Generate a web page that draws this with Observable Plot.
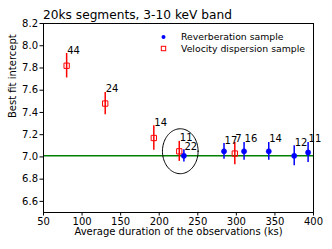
<!DOCTYPE html>
<html>
<head>
<meta charset="utf-8">
<script src="https://cdn.jsdelivr.net/npm/d3@7"></script>
<script src="https://cdn.jsdelivr.net/npm/@observablehq/plot@0.6"></script>
<style>
  html, body { margin: 0; padding: 0; background: #fff; }
  #chart svg { display: block; font-family: "DejaVu Sans", sans-serif; }
</style>
</head>
<body>
<div id="chart"></div>
<script>
// Reverberation sample (blue)
const revX = [232, 284, 310, 342, 375, 393];
const revY = [7.01, 7.05, 7.05, 7.05, 7.01, 7.04];
const revErr = [0.055, 0.07, 0.08, 0.08, 0.09, 0.09];
const revN = ["22", "17", "16", "14", "12", "11"];
// Velocity dispersion sample (red)
const velX = [80, 130, 193, 226, 298];
const velY = [7.82, 7.48, 7.17, 7.05, 7.03];
const velErr = [0.11, 0.10, 0.11, 0.09, 0.10];
const velN = ["44", "24", "14", "11", "7"];
// reference line
const refY = 7.01;
// highlighted ellipse (data units)
const ellCx = 227.3, ellCy = 7.051, ellRx = 23.1, ellRy = 0.202;

const xTicks = [50, 100, 150, 200, 250, 300, 350, 400];
const yTicks = [6.6, 6.8, 7.0, 7.2, 7.4, 7.6, 7.8, 8.0, 8.2];

const titleText = "20ks segments, 3-10 keV band";
const xLabel = "Average duration of the observations (ks)";
const yLabel = "Best fit intercept";
const legendLabels = ["Reverberation sample", "Velocity dispersion sample"];

const RED = "#ff0000", BLUE = "#0000ff", GREEN = "#008000";

const rev = revX.map((x, i) => ({x, y: revY[i], e: revErr[i], n: revN[i]}));
const vel = velX.map((x, i) => ({x, y: velY[i], e: velErr[i], n: velN[i]}));
const ell = d3.range(0, 97).map(i => {
  const t = i / 96 * 2 * Math.PI;
  return {x: ellCx + ellRx * Math.cos(t), y: ellCy + ellRy * Math.sin(t)};
});

const mL = 43, mT = 23, mR = 19, mB = 37;

const plot = Plot.plot({
  width: 332,
  height: 249,
  marginLeft: mL, marginRight: mR, marginTop: mT, marginBottom: mB,
  style: {fontFamily: "DejaVu Sans, sans-serif", fontSize: "10px", color: "#000", background: "#fff"},
  x: {domain: [50, 400], ticks: xTicks, tickSize: 3.5, tickPadding: 2, label: null, tickFormat: d3.format("d")},
  y: {domain: [6.5, 8.2], ticks: yTicks, tickSize: 3.5, tickPadding: 2, label: null, tickFormat: d3.format(".1f")},
  marks: [
    Plot.ruleY([refY], {stroke: GREEN, strokeWidth: 1.5}),
    Plot.ruleX(vel, {x: "x", y1: d => d.y - d.e, y2: d => d.y + d.e, stroke: RED, strokeWidth: 1.5}),
    Plot.ruleX(rev, {x: "x", y1: d => d.y - d.e, y2: d => d.y + d.e, stroke: BLUE, strokeWidth: 1.5}),
    Plot.dot(vel, {x: "x", y: "y", symbol: "square", r: 3, stroke: RED, fill: "none", strokeWidth: 1}),
    Plot.dot(rev, {x: "x", y: "y", r: 2.6, fill: BLUE, stroke: BLUE, strokeWidth: 0.5}),
    Plot.text(vel, {x: "x", y: d => d.y + d.e, text: "n", textAnchor: "start", lineAnchor: "bottom", fontSize: 10, fill: "#000", dx: 0.5}),
    Plot.text(rev, {x: "x", y: d => d.y + d.e, text: "n", textAnchor: "start", lineAnchor: "bottom", fontSize: 10, fill: "#000", dx: 0.5}),
    Plot.line(ell, {x: "x", y: "y", stroke: "#000", strokeWidth: 1, curve: "linear-closed"}),
    Plot.frame({stroke: "#000", strokeWidth: 1}),
    Plot.text([xLabel], {frameAnchor: "bottom", text: d => d, dy: 22.5, fontSize: 10, fill: "#000"}),
    Plot.text([yLabel], {frameAnchor: "left", text: d => d, dx: -31, rotate: -90, fontSize: 10, fill: "#000"})
  ]
});

document.getElementById("chart").appendChild(plot);

const svg = d3.select(plot);
// Title
svg.append("text")
  .attr("x", mL).attr("y", 19)
  .attr("text-anchor", "start")
  .attr("fill", "#000")
  .style("font-family", "DejaVu Sans, sans-serif")
  .style("font-size", "12.2px")
  .text(titleText);

// Legend (decoration, not data)
const lg = svg.append("g").attr("text-anchor", "start");
const lx = mL + 120.5, ly0 = mT + 14, lstep = 11.5;
lg.append("circle").attr("cx", lx).attr("cy", ly0).attr("r", 2).attr("fill", BLUE);
lg.append("rect").attr("x", lx - 2.2).attr("y", ly0 + lstep - 2.2).attr("width", 4.4).attr("height", 4.4)
  .attr("fill", "none").attr("stroke", RED).attr("stroke-width", 1);
legendLabels.forEach((t, i) => {
  lg.append("text").attr("x", lx + 17.5).attr("y", ly0 + i * lstep).attr("dy", "0.35em")
    .attr("text-anchor", "start").attr("fill", "#000")
    .style("font-family", "DejaVu Sans, sans-serif")
    .style("font-size", "9.3px")
    .text(t);
});
</script>
</body>
</html>
